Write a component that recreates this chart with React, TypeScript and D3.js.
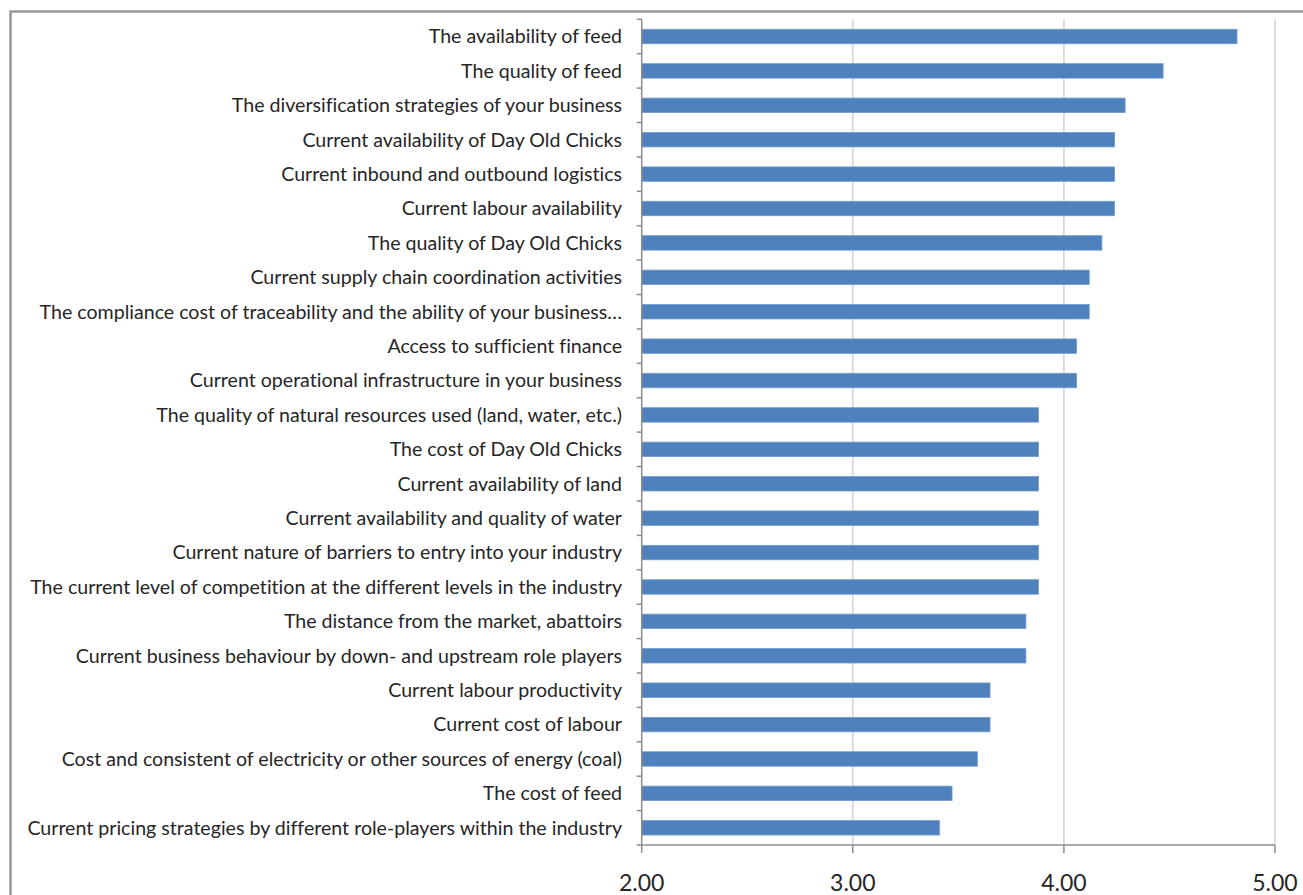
import React, { useEffect, useRef } from "react";
import * as d3 from "d3";

// Factor labels, listed top to bottom
const categories: string[] = [
  "The availability of feed",
  "The quality of feed",
  "The diversification strategies of your business",
  "Current availability of Day Old Chicks",
  "Current inbound and outbound logistics",
  "Current labour availability",
  "The quality of Day Old Chicks",
  "Current supply chain coordination activities",
  "The compliance cost of traceability and the ability of your business…",
  "Access to sufficient finance",
  "Current operational infrastructure in your business",
  "The quality of natural resources used (land, water, etc.)",
  "The cost of Day Old Chicks",
  "Current availability of land",
  "Current availability and quality of water",
  "Current nature of barriers to entry into your industry",
  "The current level of competition at the different levels in the industry",
  "The distance from the market, abattoirs",
  "Current business behaviour by down- and upstream role players",
  "Current labour productivity",
  "Current cost of labour",
  "Cost and consistent of electricity or other sources of energy (coal)",
  "The cost of feed",
  "Current pricing strategies by different role-players within the industry",
];

// Mean score per factor
const values: number[] = [
  4.82, 4.47, 4.29, 4.24, 4.24, 4.24, 4.18, 4.12, 4.12, 4.06, 4.06, 3.88,
  3.88, 3.88, 3.88, 3.88, 3.88, 3.82, 3.82, 3.65, 3.65, 3.59, 3.47, 3.41,
];

const xTicks: number[] = [2, 3, 4, 5];
const xDomain: [number, number] = [2, 5];

const W = 1303;
const H = 895;
const FONT = "Lato, 'Open Sans', sans-serif";

export default function App() {
  const ref = useRef<SVGSVGElement | null>(null);

  useEffect(() => {
    const svg = d3.select(ref.current);
    svg.selectAll("*").remove();

    const left = 641.7;
    const right = 1275;
    const top = 19.3;
    const bottom = 845;

    const x = d3.scaleLinear().domain(xDomain).range([left, right]);
    const y = d3
      .scaleBand<number>()
      .domain(d3.range(categories.length))
      .range([top, bottom])
      .paddingInner(0)
      .paddingOuter(0);
    const barH = y.bandwidth() * 0.42;

    // outer chart frame
    svg
      .append("rect")
      .attr("x", 10.5)
      .attr("y", 11.5)
      .attr("width", W + 20)
      .attr("height", H + 20)
      .attr("fill", "#fff")
      .attr("stroke", "#9a9a9a")
      .attr("stroke-width", 2.5);

    // vertical gridlines
    svg
      .append("g")
      .selectAll("line")
      .data(xTicks.filter((t) => t !== xDomain[0]))
      .join("line")
      .attr("x1", (d) => x(d))
      .attr("x2", (d) => x(d))
      .attr("y1", top)
      .attr("y2", bottom)
      .attr("stroke", "#d9d9d9")
      .attr("stroke-width", 1.8);

    // bars
    svg
      .append("g")
      .selectAll("rect")
      .data(values)
      .join("rect")
      .attr("x", x(xDomain[0]))
      .attr("y", (_, i) => (y(i) as number) + (y.bandwidth() - barH) / 2)
      .attr("width", (d) => x(d) - x(xDomain[0]))
      .attr("height", barH)
      .attr("fill", "#4f81bd")
      .attr("stroke", "#6f9bd0")
      .attr("stroke-width", 0.8);

    // bottom axis
    const axisColor = "#8c8c8c";
    svg
      .append("line")
      .attr("x1", left)
      .attr("x2", right)
      .attr("y1", bottom)
      .attr("y2", bottom)
      .attr("stroke", axisColor)
      .attr("stroke-width", 1.5);
    svg
      .append("g")
      .selectAll("line")
      .data(xTicks)
      .join("line")
      .attr("x1", (d) => x(d))
      .attr("x2", (d) => x(d))
      .attr("y1", bottom)
      .attr("y2", bottom + 8)
      .attr("stroke", axisColor)
      .attr("stroke-width", 1.5);
    svg
      .append("g")
      .selectAll("text")
      .data(xTicks)
      .join("text")
      .attr("x", (d) => x(d))
      .attr("y", 891)
      .attr("text-anchor", "middle")
      .attr("font-family", FONT)
      .attr("font-size", 23)
      .attr("fill", "#262626")
      .text((d) => d3.format(".2f")(d));

    // left category axis
    svg
      .append("line")
      .attr("x1", left)
      .attr("x2", left)
      .attr("y1", top)
      .attr("y2", bottom)
      .attr("stroke", axisColor)
      .attr("stroke-width", 1.5);
    svg
      .append("g")
      .selectAll("line")
      .data(d3.range(categories.length + 1))
      .join("line")
      .attr("x1", left - 5)
      .attr("x2", left)
      .attr("y1", (i) => top + i * y.step())
      .attr("y2", (i) => top + i * y.step())
      .attr("stroke", axisColor)
      .attr("stroke-width", 1.5);

    svg
      .append("g")
      .selectAll("text")
      .data(categories)
      .join("text")
      .attr("x", 622)
      .attr("y", (_, i) => (y(i) as number) + y.bandwidth() / 2)
      .attr("dy", "0.35em")
      .attr("text-anchor", "end")
      .attr("font-family", FONT)
      .attr("font-size", 19.6)
      .style("font-variant-ligatures", "none")
      .attr("fill", "#262626")
      .text((d) => d);
  }, []);

  return (
    <svg
      ref={ref}
      width={W}
      height={H}
      style={{ position: "absolute", left: 0, top: 0, background: "#fff" }}
    />
  );
}
